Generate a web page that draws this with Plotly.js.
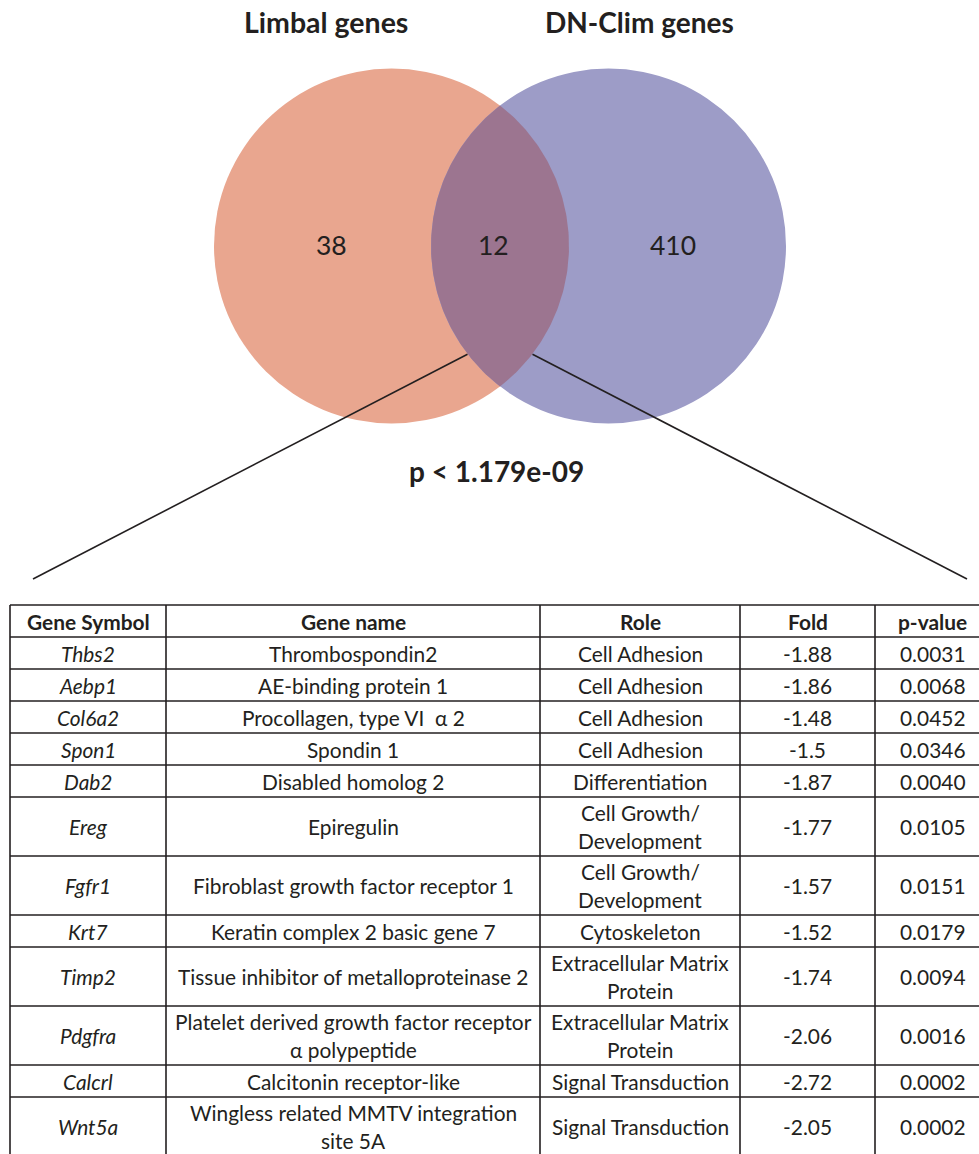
<!DOCTYPE html>
<html><head><meta charset="utf-8">
<script src="https://cdn.plot.ly/plotly-3.0.1.min.js"></script>
<style>html,body{margin:0;padding:0;background:#fff}#chart{width:979px;height:1154px}</style>
</head><body><div id="chart"></div>
<script>
// ---- data ----
const setNames = ['Limbal genes', 'DN-Clim genes'];
const vennRegions = ['Limbal only', 'Both', 'DN-Clim only'];
const vennCounts = [38, 12, 410];
const pText = 'p < 1.179e-09';

const headers = ['Gene Symbol', 'Gene name', 'Role', 'Fold', 'p-value'];
const symbols = ['Thbs2', 'Aebp1', 'Col6a2', 'Spon1', 'Dab2', 'Ereg', 'Fgfr1', 'Krt7', 'Timp2', 'Pdgfra', 'Calcrl', 'Wnt5a'];
const names = ['Thrombospondin2', 'AE-binding protein 1', 'Procollagen, type VI \u00a0\u03b1 2', 'Spondin 1',
  'Disabled homolog 2', 'Epiregulin', 'Fibroblast growth factor receptor 1', 'Keratin complex 2 basic gene 7',
  'Tissue inhibitor of metalloproteinase 2', 'Platelet derived growth factor receptor<br>\u03b1 polypeptide',
  'Calcitonin receptor-like', 'Wingless related MMTV integration<br>site 5A'];
const roles = ['Cell Adhesion', 'Cell Adhesion', 'Cell Adhesion', 'Cell Adhesion', 'Differentiation',
  'Cell Growth/<br>Development', 'Cell Growth/<br>Development', 'Cytoskeleton',
  'Extracellular Matrix<br>Protein', 'Extracellular Matrix<br>Protein', 'Signal Transduction', 'Signal Transduction'];
const folds = [-1.88, -1.86, -1.48, -1.5, -1.87, -1.77, -1.57, -1.52, -1.74, -2.06, -2.72, -2.05];
const pvalues = [0.0031, 0.0068, 0.0452, 0.0346, 0.0040, 0.0105, 0.0151, 0.0179, 0.0094, 0.0016, 0.0002, 0.0002];

// ---- styling / geometry ----
const FONT = 'Lato, "Open Sans", sans-serif';
const INK = '#231f20';
const C1 = {cx: 391.5, cy: 246, r: 177.5, fill: '#E9A68F'};
const C2 = {cx: 608.5, cy: 246, r: 177.5, fill: '#9D9CC7'};
const LENS_FILL = '#9C7590';

const colEdges = [10, 166, 540, 740, 875, 990];
const tableTop = 605;
const rowH1 = 32, rowH2 = 59, lineGap = 28;
const cellFont = 20.9;

const shapes = [];
const annotations = [];

// circles
[C1, C2].forEach(c => shapes.push({type: 'circle', xref: 'x', yref: 'y', layer: 'below',
  x0: c.cx - c.r, x1: c.cx + c.r, y0: c.cy - c.r, y1: c.cy + c.r,
  fillcolor: c.fill, line: {width: 0}}));

// lens (intersection) polygon
const d = C2.cx - C1.cx;
const th1 = Math.acos((d / 2) / C1.r);
const lx = [], ly = [];
const N = 120;
for (let i = 0; i <= N; i++) { // right arc of circle 1
  const t = -th1 + 2 * th1 * i / N;
  lx.push(C1.cx + C1.r * Math.cos(t)); ly.push(C1.cy + C1.r * Math.sin(t));
}
for (let i = 0; i <= N; i++) { // left arc of circle 2
  const t = Math.PI - th1 + 2 * th1 * i / N;
  lx.push(C2.cx + C2.r * Math.cos(t)); ly.push(C2.cy + C2.r * Math.sin(t));
}

// connector lines
shapes.push({type: 'line', xref: 'x', yref: 'y', layer: 'above', x0: 467.5, y0: 354.3, x1: 33, y1: 579, line: {color: INK, width: 1.6}});
shapes.push({type: 'line', xref: 'x', yref: 'y', layer: 'above', x0: 532.5, y0: 354.3, x1: 967, y1: 579, line: {color: INK, width: 1.6}});

// venn titles
const titlePos = [[325.5, 22], [639.5, 22]];
setNames.forEach((s, i) => annotations.push({x: titlePos[i][0], y: titlePos[i][1], xref: 'x', yref: 'y', text: '<b>' + s + '</b>',
  showarrow: false, xanchor: 'center', yanchor: 'middle', font: {family: FONT, size: [28.5, 28][i], color: INK}}));
// counts
const countX = [331, 493, 673];
vennCounts.forEach((v, i) => annotations.push({x: countX[i], y: 245, xref: 'x', yref: 'y', text: String(v),
  showarrow: false, xanchor: 'center', yanchor: 'middle', font: {family: FONT, size: 26.5, color: INK}}));
annotations.push({x: 496, y: 471, xref: 'x', yref: 'y', text: '<b>' + pText + '</b>', showarrow: false,
  xanchor: 'center', yanchor: 'middle', font: {family: FONT, size: 28, color: INK}});

// table
const rows = [headers.map(h => '<b>' + h + '</b>')];
symbols.forEach((s, i) => rows.push(['<i>' + s + '</i>', names[i], roles[i], String(folds[i]), pvalues[i].toFixed(4)]));

let y = tableTop;
const hLines = [y];
rows.forEach(r => {
  const nl = Math.max(...r.map(t => t.split('<br>').length));
  const h = nl > 1 ? rowH2 : rowH1;
  const cy = y + h / 2;
  r.forEach((t, c) => {
    const parts = t.split('<br>');
    const cx = (colEdges[c] + colEdges[c + 1]) / 2;
    parts.forEach((p, k) => {
      const py = cy + (k - (parts.length - 1) / 2) * lineGap;
      annotations.push({x: cx, y: py, xref: 'x', yref: 'y', text: p, showarrow: false,
        xanchor: 'center', yanchor: 'middle', font: {family: FONT, size: cellFont, color: INK}});
    });
  });
  y += h;
  hLines.push(y);
});
const tableBottom = y;
hLines.forEach(hy => shapes.push({type: 'line', xref: 'x', yref: 'y', layer: 'above',
  x0: colEdges[0], x1: colEdges[colEdges.length - 1], y0: hy, y1: hy, line: {color: INK, width: 1.6}}));
colEdges.forEach(cx => shapes.push({type: 'line', xref: 'x', yref: 'y', layer: 'above',
  x0: cx, x1: cx, y0: tableTop, y1: tableBottom, line: {color: INK, width: 1.6}}));

const data = [{type: 'scatter', mode: 'lines', x: lx, y: ly, fill: 'toself', fillcolor: LENS_FILL,
  line: {width: 0, color: LENS_FILL}, hoverinfo: 'skip', name: vennRegions[1]}];

const layout = {
  width: 979, height: 1154, margin: {l: 0, r: 0, t: 0, b: 0, pad: 0},
  paper_bgcolor: '#ffffff', plot_bgcolor: '#ffffff', showlegend: false,
  xaxis: {range: [0, 979], visible: false, fixedrange: true},
  yaxis: {range: [1154, 0], visible: false, fixedrange: true},
  shapes: shapes, annotations: annotations
};
Plotly.newPlot('chart', data, layout, {displayModeBar: false, staticPlot: true});
</script></body></html>
